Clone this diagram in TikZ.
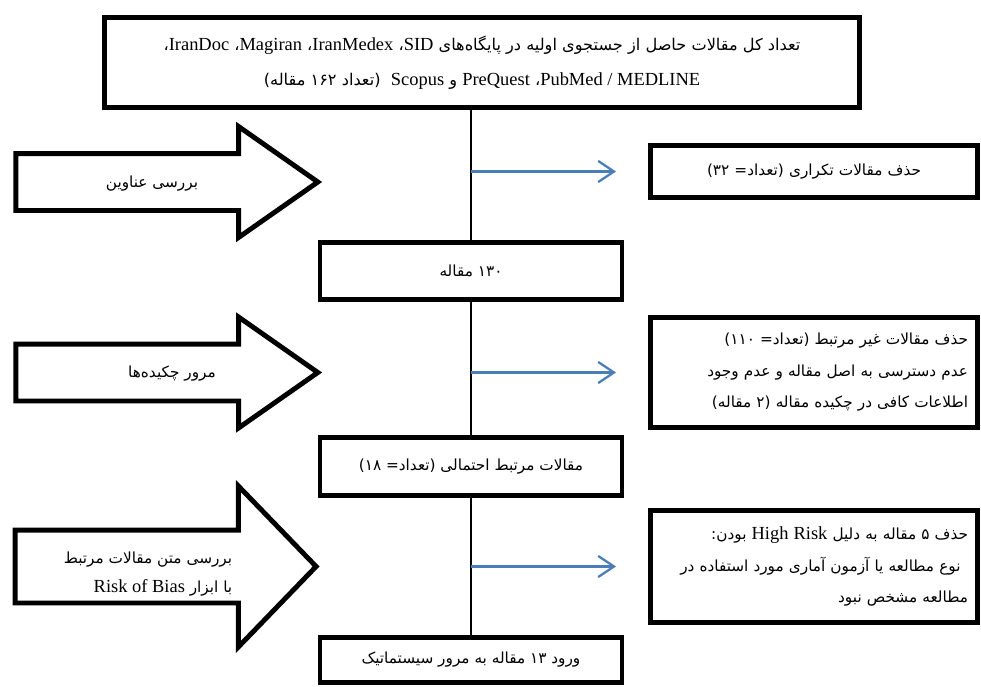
\documentclass[tikz,border=0pt]{standalone}
\usepackage{fontspec}
\setmainfont{Liberation Serif}
\newfontfamily\fa[Script=Arabic]{DejaVu Sans}
\TeXXeTstate=1
\usepackage{tikz}
\usetikzlibrary{arrows.meta}
\usetikzlibrary{positioning}
\usetikzlibrary{shapes.arrows}
\definecolor{flowblue}{RGB}{74,126,187}
\newcommand{\rl}[1]{\beginR #1\endR}
\newcommand{\enw}[1]{\beginL{\rmfamily\fontsize{10.5}{17.9}\selectfont #1}\endL}
\tikzstyle{every node}+=[inner sep=0pt]
\tikzstyle{block} = [rectangle, draw, line width=2.8pt, align=center, font=\fa\fontsize{8.7}{17.9}\selectfont, minimum width=6.04cm, minimum height=1.14cm]
\tikzstyle{dropbox} = [block, minimum width=6.54cm, text width=6.16cm, inner xsep=0.19cm, align=right]
\tikzstyle{review} = [single arrow, draw, line width=2.8pt, font=\fa\fontsize{8.7}{16.4}\selectfont, align=right, single arrow head extend=0.54cm, single arrow tip angle=70, inner ysep=0.32cm, text height=0.3cm, text depth=0.1cm, inner xsep=0.1cm, minimum height=6.04cm]
\tikzstyle{line} = [draw, line width=0.8pt]
\tikzstyle{drop} = [draw, flowblue, line width=1.3pt, -{Straight Barb[length=9pt,width=12pt]}, shorten >=0.64cm]

\begin{document}
\begin{tikzpicture}[node distance = 2cm, auto]
  \useasboundingbox (0,0) rectangle (19.62,-13.74);
  % Place nodes
  \node [block, minimum width=15.1cm, minimum height=1.8cm, font=\fa\fontsize{9.2}{19.8}\selectfont] (top) at (9.64,-1.25) {\rl{تعداد کل مقالات حاصل از جستجوی اولیه در پایگاه‌های \enw{SID}، \enw{IranMedex}، \enw{Magiran}، \enw{IranDoc}،}\\\rl{\enw{PubMed / MEDLINE}، \enw{PreQuest} و \enw{Scopus}\ \ (تعداد ۱۶۲ مقاله)}};
  \node [block, below of=top, node distance=4.17cm, xshift=-0.22cm] (n130) {\rl{۱۳۰ مقاله}};
  \node [block, below of=n130, node distance=3.91cm, minimum height=1.16cm] (n18) {\rl{مقالات مرتبط احتمالی (تعداد= ۱۸)}};
  \node [block, below of=n18, node distance=3.87cm, minimum height=0.9cm] (n13) {\rl{ورود ۱۳ مقاله به مرور سیستماتیک}};
  \node [dropbox, align=center, right of=n130, node distance=6.86cm, yshift=1.99cm, minimum height=1.04cm] (del1) {\rl{حذف مقالات تکراری (تعداد= ۳۲)}};
  \node [dropbox, right of=n130, node distance=6.86cm, yshift=-2.03cm, minimum height=2.2cm] (del2) {\rl{حذف مقالات غیر مرتبط (تعداد= ۱۱۰)}\\\rl{عدم دسترسی به اصل مقاله و عدم وجود}\\\rl{اطلاعات کافی در چکیده مقاله (۲ مقاله)}};
  \node [dropbox, right of=n18, node distance=6.86cm, yshift=-2.0cm, minimum height=2.24cm] (del3) {\rl{حذف ۵ مقاله به دلیل \enw{High Risk} بودن:}\\\rl{\hspace*{0.15cm}نوع مطالعه یا آزمون آماری مورد استفاده در}\\\rl{مطالعه مشخص نبود}};
  \node [review, left of=n130, node distance=6.49cm, yshift=1.78cm] (rev1) {\rl{بررسی عناوین\hspace*{0.22cm}}};
  \node [review, left of=n130, node distance=6.49cm, yshift=-2.03cm] (rev2) {\rl{مرور چکیده‌ها\hspace*{1.02cm}}};
  \node [review, left of=n18, node distance=6.46cm, yshift=-2.0cm, minimum height=6.02cm, inner ysep=0.09cm, text height=1.1cm, text depth=0.08cm, single arrow head extend=0.88cm, single arrow tip angle=92] (rev3) {\rl{بررسی متن مقالات مرتبط}\\\rl{با ابزار \enw{Risk of Bias}}};
  % Draw edges
  \path [line] (top.south -| n130) -- (n130);
  \path [line] (n130) -- (n18);
  \path [line] (n18) -- (n13);
  \path [drop] (n130 |- del1) -- (del1);
  \path [drop] (n130 |- del2) -- (del2);
  \path [drop] (n18 |- del3) -- (del3);
\end{tikzpicture}
\end{document}
